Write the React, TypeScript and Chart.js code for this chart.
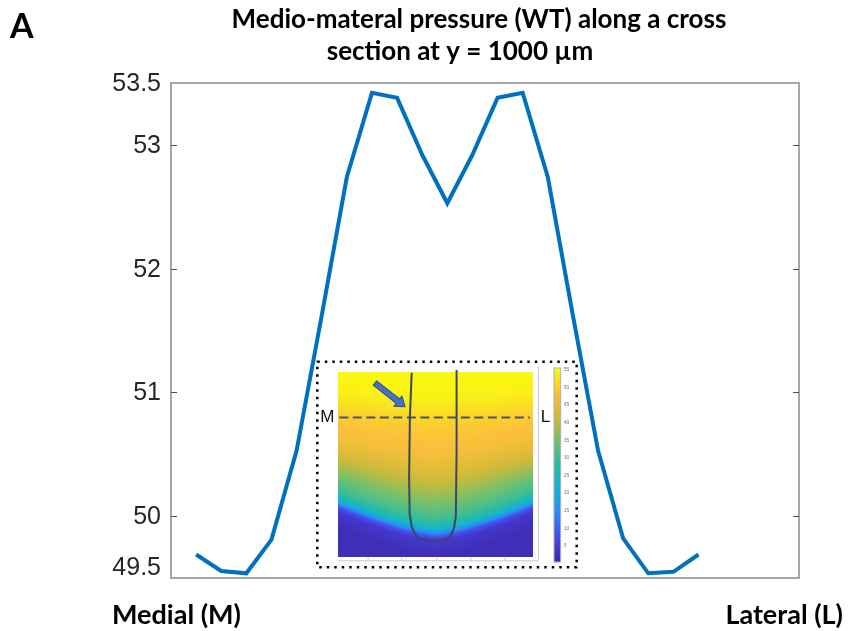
import React, { useEffect, useRef } from "react";
import { Chart, registerables } from "chart.js";

Chart.register(...registerables);

// ---------- data ----------
const TITLE_LINES = ["Medio-materal pressure (WT) along a cross", "section at y = 1000 µm"];
const PANEL_LABEL = "A";
const X_LEFT_LABEL = "Medial (M)";
const X_RIGHT_LABEL = "Lateral (L)";
const POSITIONS = [1, 2, 3, 4, 5, 6, 7, 8, 9, 10, 11, 12, 13, 14, 15, 16, 17, 18, 19, 20, 21];
const PRESSURE = [
  49.69, 49.557, 49.538, 49.81, 50.53, 51.62, 52.74, 53.42, 53.38, 52.92, 52.528,
  52.92, 53.38, 53.42, 52.74, 51.62, 50.53, 49.82, 49.538, 49.55, 49.69,
];
const Y_TICKS = [49.5, 50, 51, 52, 53, 53.5];
const Y_MIN = 49.5;
const Y_MAX = 53.5;
const X_MIN = 0;
const X_MAX = 25;
// inset (heat-map picture) placed in data coordinates
const INSET_X = [5.824, 16.15];
const INSET_Y = [51.248, 49.586];
const COLORBAR_TICKS = [5, 10, 15, 20, 25, 30, 35, 40, 45, 50, 55];
const COLOR_RANGE = [0.4, 55.5];
const INSET_LEFT_LABEL = "M";
const INSET_RIGHT_LABEL = "L";

// parula-like colour stops
const PARULA: number[][] = [
  [0.0, 62, 38, 168],
  [0.125, 71, 72, 235],
  [0.25, 46, 135, 247],
  [0.375, 18, 177, 214],
  [0.5, 40, 188, 163],
  [0.625, 113, 193, 110],
  [0.75, 204, 186, 58],
  [0.875, 252, 192, 58],
  [1.0, 249, 251, 14],
];
function parula(t: number): [number, number, number] {
  t = Math.max(0, Math.min(1, t));
  for (let i = 1; i < PARULA.length; i++) {
    if (t <= PARULA[i][0]) {
      const a = PARULA[i - 1], b = PARULA[i];
      const f = (t - a[0]) / (b[0] - a[0]);
      return [a[1] + (b[1] - a[1]) * f, a[2] + (b[2] - a[2]) * f, a[3] + (b[3] - a[3]) * f];
    }
  }
  const l = PARULA[PARULA.length - 1];
  return [l[1], l[2], l[3]];
}

// vertical pressure profile of the heat map (depth fraction -> value)
const PROFILE_DEPTH = [0, 0.15, 0.3, 0.45, 0.55, 0.63, 0.72, 0.8, 0.84, 0.87, 0.89, 0.92, 1.0];
const PROFILE_VALUE = [55.5, 54, 50, 47.5, 44, 40, 35, 30, 25, 17, 9, 4, 2];
function profile(v: number): number {
  if (v <= PROFILE_DEPTH[0]) return PROFILE_VALUE[0];
  for (let i = 1; i < PROFILE_DEPTH.length; i++) {
    if (v <= PROFILE_DEPTH[i]) {
      const f = (v - PROFILE_DEPTH[i - 1]) / (PROFILE_DEPTH[i] - PROFILE_DEPTH[i - 1]);
      return PROFILE_VALUE[i - 1] + (PROFILE_VALUE[i] - PROFILE_VALUE[i - 1]) * f;
    }
  }
  return PROFILE_VALUE[PROFILE_VALUE.length - 1];
}

const U_CURVE = [
  [0.364, 0.0535], [0.357, 0.2675], [0.354, 0.559], [0.356, 0.74], [0.364, 0.8025],
  [0.378, 0.84], [0.396, 0.859], [0.43, 0.868], [0.473, 0.871], [0.5, 0.863],
  [0.512, 0.851], [0.527, 0.81], [0.534, 0.754], [0.537, 0.4295], [0.537, 0.04],
];

const framePlugin = {
  id: "framePlugin",
  beforeDatasetsDraw(chart: any) {
    const { ctx, chartArea: a, scales } = chart;
    const y = scales.y;
    ctx.save();
    ctx.strokeStyle = "#8a8a8a";
    ctx.lineWidth = 1.5;
    ctx.strokeRect(a.left, a.top, a.right - a.left, a.bottom - a.top);
    ctx.strokeStyle = "#4d4d4d";
    ctx.lineWidth = 1;
    for (const v of Y_TICKS) {
      if (v === Y_MIN || v === Y_MAX) continue;
      const py = Math.round(y.getPixelForValue(v)) + 0.5;
      ctx.beginPath();
      ctx.moveTo(a.left, py);
      ctx.lineTo(a.left + 6, py);
      ctx.moveTo(a.right, py);
      ctx.lineTo(a.right - 6, py);
      ctx.stroke();
    }
    ctx.fillStyle = "#262626";
    ctx.font = "25px 'Liberation Sans', Arial, sans-serif";
    ctx.textAlign = "right";
    for (const v of Y_TICKS) {
      const py = y.getPixelForValue(v);
      if (v === Y_MIN) {
        ctx.textBaseline = "bottom";
        ctx.fillText(String(v), a.left - 10, py + 3);
      } else {
        ctx.textBaseline = "middle";
        ctx.fillText(String(v), a.left - 10, py + 1);
      }
    }
    ctx.restore();
  },
  afterDatasetsDraw(chart: any) {
    const { ctx, chartArea: a, scales } = chart;
    const xs = scales.x, ys = scales.y;
    const bx0 = xs.getPixelForValue(INSET_X[0]);
    const bx1 = xs.getPixelForValue(INSET_X[1]);
    const by0 = ys.getPixelForValue(INSET_Y[0]);
    const by1 = ys.getPixelForValue(INSET_Y[1]);
    const bw = bx1 - bx0, bh = by1 - by0;
    const px = (f: number) => bx0 + f * bw;
    const py = (f: number) => by0 + f * bh;
    ctx.save();
    ctx.fillStyle = "#ffffff";
    ctx.fillRect(bx0, by0, bw, bh);

    // heat map
    const hx0 = Math.round(px(0.081)), hx1 = Math.round(px(0.833));
    const hy0 = Math.round(py(0.0486)), hy1 = Math.round(py(0.951));
    const hw = hx1 - hx0, hh = hy1 - hy0;
    const off = document.createElement("canvas");
    off.width = hw;
    off.height = hh;
    const octx = off.getContext("2d")!;
    const img = octx.createImageData(hw, hh);
    for (let j = 0; j < hh; j++) {
      const v = j / (hh - 1);
      for (let i = 0; i < hw; i++) {
        const u = i / (hw - 1);
        const side = 0.16 * Math.pow(Math.abs(2 * u - 1), 1.4);
        const w = Math.min(1, v / 0.6);
        const val = profile(v + side * w);
        const t = (val - COLOR_RANGE[0]) / (COLOR_RANGE[1] - COLOR_RANGE[0]);
        const [r, g, b] = parula(t);
        const k = (j * hw + i) * 4;
        img.data[k] = r;
        img.data[k + 1] = g;
        img.data[k + 2] = b;
        img.data[k + 3] = 255;
      }
    }
    octx.putImageData(img, 0, 0);
    ctx.drawImage(off, hx0, hy0);

    // faint axes of the heat map
    ctx.strokeStyle = "#c8c8c8";
    ctx.lineWidth = 1;
    ctx.beginPath();
    ctx.moveTo(hx0, py(0.968));
    ctx.lineTo(px(0.852), py(0.968));
    ctx.lineTo(px(0.852), py(0.024));
    ctx.stroke();
    for (const f of [0.196, 0.325, 0.46, 0.592, 0.724]) {
      ctx.beginPath();
      ctx.moveTo(px(f), py(0.968));
      ctx.lineTo(px(f), py(0.968) - 3);
      ctx.stroke();
    }

    // colour bar
    const cx0 = px(0.9125), cx1 = px(0.9383);
    const cy0 = Math.round(py(0.032)), cy1 = Math.round(py(0.976));
    for (let yy = cy0; yy < cy1; yy++) {
      const t = 1 - (yy - cy0) / (cy1 - cy0);
      const [r, g, b] = parula(t);
      ctx.fillStyle = `rgb(${r | 0},${g | 0},${b | 0})`;
      ctx.fillRect(cx0, yy, cx1 - cx0, 1);
    }
    ctx.strokeStyle = "#b0b0b0";
    ctx.strokeRect(cx0, cy0, cx1 - cx0, cy1 - cy0);
    ctx.fillStyle = "#777";
    ctx.font = "5px 'Liberation Sans', Arial, sans-serif";
    ctx.textAlign = "left";
    ctx.textBaseline = "middle";
    for (const tv of COLORBAR_TICKS) {
      const f = (tv - COLOR_RANGE[0]) / (COLOR_RANGE[1] - COLOR_RANGE[0]);
      const yy = cy1 - f * (cy1 - cy0);
      ctx.fillText(String(tv), cx1 + 3, yy);
    }

    // dashed cross-section line
    ctx.strokeStyle = "#4d5466";
    ctx.lineWidth = 2;
    ctx.setLineDash([9, 4.5]);
    ctx.beginPath();
    ctx.moveTo(px(0.085), py(0.271));
    ctx.lineTo(px(0.82), py(0.271));
    ctx.stroke();
    ctx.setLineDash([]);

    // U-shaped outline
    ctx.strokeStyle = "#3e4760";
    ctx.lineWidth = 2;
    ctx.lineJoin = "round";
    ctx.beginPath();
    U_CURVE.forEach(([fx, fy], i) => {
      if (i === 0) ctx.moveTo(px(fx), py(fy));
      else ctx.lineTo(px(fx), py(fy));
    });
    ctx.stroke();

    // arrow
    const tx = px(0.222), ty = py(0.1036), hx = px(0.338), hy2 = py(0.2188);
    const ang = Math.atan2(hy2 - ty, hx - tx);
    const len = Math.hypot(hx - tx, hy2 - ty);
    ctx.save();
    ctx.translate(tx, ty);
    ctx.rotate(ang);
    ctx.beginPath();
    ctx.moveTo(0, -2.8);
    ctx.lineTo(len - 9, -2.8);
    ctx.lineTo(len - 9, -6.5);
    ctx.lineTo(len, 0);
    ctx.lineTo(len - 9, 6.5);
    ctx.lineTo(len - 9, 2.8);
    ctx.lineTo(0, 2.8);
    ctx.closePath();
    ctx.fillStyle = "#4472c4";
    ctx.fill();
    ctx.strokeStyle = "#2f4b86";
    ctx.lineWidth = 1;
    ctx.stroke();
    ctx.restore();

    // M / L labels
    ctx.fillStyle = "#111";
    ctx.font = "17px 'Liberation Sans', Arial, sans-serif";
    ctx.textAlign = "center";
    ctx.textBaseline = "middle";
    ctx.fillText(INSET_LEFT_LABEL, px(0.0385), py(0.2695));
    ctx.fillText(INSET_RIGHT_LABEL, px(0.88), py(0.2695));

    // dotted border
    ctx.strokeStyle = "#000";
    ctx.lineWidth = 2.5;
    ctx.setLineDash([2.5, 5]);
    ctx.strokeRect(bx0, by0, bw, bh);
    ctx.setLineDash([]);
    ctx.restore();

    // texts
    ctx.save();
    ctx.fillStyle = "#000";
    ctx.textBaseline = "alphabetic";
    ctx.textAlign = "center";
    ctx.font = "bold 26px Lato, 'Open Sans', sans-serif";
    ctx.fillText(TITLE_LINES[0], 479, 28);
    ctx.fillText(TITLE_LINES[1], 460, 60);
    ctx.textAlign = "left";
    ctx.font = "bold 34px Lato, 'Open Sans', sans-serif";
    ctx.fillText(PANEL_LABEL, 10, 38);
    ctx.font = "bold 27px Lato, 'Open Sans', sans-serif";
    ctx.fillText(X_LEFT_LABEL, a.left - 59, 624);
    ctx.textAlign = "right";
    ctx.fillText(X_RIGHT_LABEL, a.right + 44, 624);
    ctx.restore();
  },
};

export default function App() {
  const ref = useRef<HTMLCanvasElement>(null);
  useEffect(() => {
    if (!ref.current) return;
    const chart = new Chart(ref.current, {
      type: "line",
      data: {
        datasets: [
          {
            data: POSITIONS.map((x, i) => ({ x, y: PRESSURE[i] })),
            borderColor: "#0072BD",
            borderWidth: 4,
            pointRadius: 0,
            tension: 0,
            borderJoinStyle: "miter",
            fill: false,
          },
        ],
      },
      options: {
        responsive: false,
        animation: false,
        layout: { padding: { left: 171, top: 83, right: 50, bottom: 53 } },
        plugins: { legend: { display: false }, tooltip: { enabled: false }, title: { display: false } },
        scales: {
          x: { type: "linear", min: X_MIN, max: X_MAX, display: false },
          y: { type: "linear", min: Y_MIN, max: Y_MAX, display: false },
        },
      },
      plugins: [framePlugin],
    });
    return () => chart.destroy();
  }, []);
  return (
    <div style={{ position: "fixed", left: 0, top: 0, width: 849, height: 631, background: "#fff" }}>
      <canvas ref={ref} width={849} height={631} style={{ width: 849, height: 631, display: "block" }} />
    </div>
  );
}
